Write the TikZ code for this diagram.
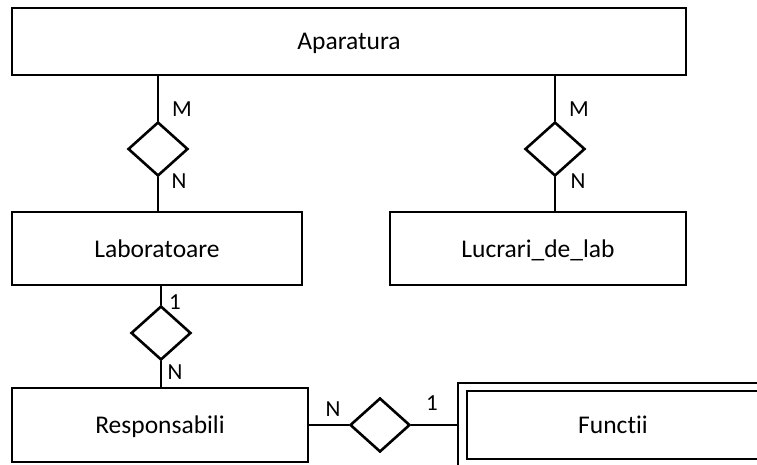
\documentclass[tikz,border=0pt]{standalone}
\usepackage{fontspec}
\setmainfont{Carlito}[Ligatures=NoCommon]
\usetikzlibrary{shapes.geometric,calc}
\begin{document}
\begin{tikzpicture}[x=1pt,y=-1pt,
  ent/.style={draw,line width=2.6pt,rectangle,inner sep=0pt,text height=20pt,text depth=3pt,font=\fontsize{25.5}{30}\selectfont},
  rel/.style={draw,line width=2.6pt,diamond,inner sep=0pt,minimum width=60pt,minimum height=54pt},
  conn/.style={line width=2.6pt},
  card/.style={font=\fontsize{23}{26}\selectfont,inner sep=0pt}]
\useasboundingbox (0,0) rectangle (757,465);
\clip (0,0) rectangle (757,465);
\fill[white] (0,0) rectangle (757,465);
% entities
\node[ent,minimum width=674pt,minimum height=67pt] (apar) at (349,41.5) {Aparatura};
\node[ent,minimum width=290pt,minimum height=73pt] (lab) at (157,248.5) {Laboratoare};
\node[ent,minimum width=296pt,minimum height=73pt] (lucr) at (538,248.5) {Lucrari\_de\_lab};
\node[ent,minimum width=296pt,minimum height=74pt] (resp) at (160,425) {Responsabili};
\node[draw,line width=2.6pt,rectangle,minimum width=327pt,minimum height=89pt] (functo) at (621.5,427.5) {};
\node[ent,minimum width=292pt,minimum height=68pt] (funct) at (613,425) {Functii};
% relationships
\node[rel] (d1) at (158,149) {};
\node[rel] (d2) at (555,149) {};
\node[rel] (d3) at (161,333) {};
\node[rel] (d4) at (380,425) {};
% connectors
\draw[conn] (d1.north) -- (d1.north |- apar.south);
\draw[conn] (d1.south) -- (d1.south |- lab.north);
\draw[conn] (d2.north) -- (d2.north |- apar.south);
\draw[conn] (d2.south) -- (d2.south |- lucr.north);
\draw[conn] (d3.north) -- (d3.north |- lab.south);
\draw[conn] (d3.south) -- (d3.south |- resp.north);
\draw[conn] (d4.west) -- (d4.west -| resp.east);
\draw[conn] (d4.east) -- (d4.east -| functo.west);
% cardinalities
\node[card] (c1m) at (182,109) {M};
\node[card] (c1n) at (179,181) {N};
\node[card] (c2m) at (579,109) {M};
\node[card] (c2n) at (578,181) {N};
\node[card] (c3o) at (175,302) {1};
\node[card] (c3n) at (175,372) {N};
\node[card] (c4n) at (333,409) {N};
\node[card] (c4o) at (432,403) {1};
\end{tikzpicture}
\end{document}
